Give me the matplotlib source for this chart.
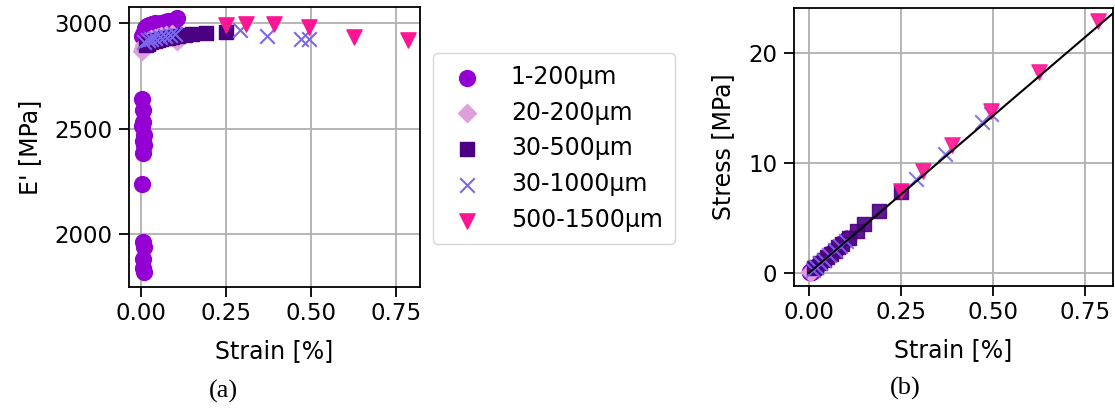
import matplotlib.pyplot as plt

# strain [%] and E' [MPa]
s1_strain = [0.003, 0.006, 0.004, 0.008, 0.005, 0.007, 0.004, 0.006, 0.009, 0.005, 0.007, 0.008, 0.006, 0.010,
             0.004, 0.008, 0.012, 0.018, 0.025, 0.032, 0.040, 0.050, 0.060, 0.070, 0.080, 0.090, 0.100, 0.105]
s1_E = [2640, 2590, 2510, 2470, 2440, 2385, 2236, 1960, 1940, 1880, 1840, 1820, 2530, 2420,
        2940, 2960, 2975, 2985, 2990, 2995, 3000, 2995, 3000, 3005, 3010, 3010, 3015, 3025]
s1_stress = [0.08, 0.16, 0.10, 0.20, 0.12, 0.17, 0.09, 0.12, 0.17, 0.09, 0.13, 0.15, 0.15, 0.24,
             0.12, 0.24, 0.36, 0.54, 0.75, 0.96, 1.20, 1.50, 1.80, 2.10, 2.41, 2.71, 3.02, 3.18]

s2_strain = [0.002, 0.005, 0.010, 0.015, 0.020, 0.030, 0.040, 0.050, 0.060, 0.075, 0.090, 0.105]
s2_E = [2870, 2880, 2895, 2905, 2915, 2925, 2930, 2935, 2940, 2945, 2950, 2915]
s2_stress = [0.06, 0.14, 0.29, 0.44, 0.58, 0.88, 1.17, 1.47, 1.76, 2.21, 2.66, 3.06]

s3_strain = [0.015, 0.020, 0.030, 0.040, 0.050, 0.060, 0.070, 0.080, 0.090, 0.110, 0.130, 0.150, 0.190, 0.250]
s3_E = [2895, 2900, 2910, 2915, 2920, 2925, 2930, 2930, 2935, 2940, 2945, 2950, 2955, 2960]
s3_stress = [0.43, 0.58, 0.87, 1.17, 1.46, 1.76, 2.05, 2.34, 2.64, 3.23, 3.83, 4.43, 5.61, 7.40]

s4_strain = [0.010, 0.020, 0.030, 0.040, 0.055, 0.070, 0.085, 0.100, 0.290, 0.370, 0.470, 0.495]
s4_E = [2910, 2920, 2925, 2930, 2935, 2940, 2945, 2950, 2967, 2938, 2924, 2924]
s4_stress = [0.29, 0.58, 0.88, 1.17, 1.61, 2.06, 2.50, 2.95, 8.60, 10.87, 13.74, 14.47]

s5_strain = [0.250, 0.310, 0.390, 0.494, 0.625, 0.785]
s5_E = [2990, 2995, 2995, 2980, 2933, 2920]
s5_stress = [7.48, 9.28, 11.68, 14.72, 18.33, 22.92]

fit_strain = [0.0, 0.85]
fit_stress = [0.0, 24.3]

labels = ['1-200μm', '20-200μm', '30-500μm', '30-1000μm', '500-1500μm']
colors = ['darkviolet', 'plum', 'indigo', 'mediumslateblue', 'deeppink']
markers = ['o', 'D', 's', 'x', 'v']

plt.rcParams['font.size'] = 16.5
plt.rcParams['axes.labelsize'] = 17
plt.rcParams['axes.linewidth'] = 1.3
plt.rcParams['xtick.major.width'] = 1.3
plt.rcParams['ytick.major.width'] = 1.3
plt.rcParams['xtick.major.size'] = 7
plt.rcParams['ytick.major.size'] = 7
plt.rcParams['xtick.major.pad'] = 4
plt.rcParams['ytick.major.pad'] = 5

fig = plt.figure(figsize=(11.15, 4.08), dpi=100)
ax1 = fig.add_axes([0.1157, 0.2966, 0.261, 0.686])
ax2 = fig.add_axes([0.712, 0.299, 0.286, 0.681])

strains = [s1_strain, s2_strain, s3_strain, s4_strain, s5_strain]
Es = [s1_E, s2_E, s3_E, s4_E, s5_E]
stresses = [s1_stress, s2_stress, s3_stress, s4_stress, s5_stress]
sizes = [130, 85, 95, 110, 120]

for i in range(5):
    ax1.scatter(strains[i], Es[i], c=colors[i], marker=markers[i], s=sizes[i],
                alpha=0.9, label=labels[i], zorder=3)
    ax2.scatter(strains[i], stresses[i], c=colors[i], marker=markers[i], s=sizes[i],
                alpha=0.9, zorder=3)
ax2.plot(fit_strain, fit_stress, color='black', lw=1.5, zorder=4)

ax1.set_xlim(-0.035, 0.82)
ax1.set_ylim(1749, 3076)
ax1.set_xticks([0, 0.25, 0.5, 0.75])
ax1.set_yticks([2000, 2500, 3000])
ax1.set_xlabel('Strain [%]', labelpad=10)
ax1.set_ylabel("E' [MPa]", labelpad=9)
ax1.grid(True, lw=1.3, zorder=0)

ax2.set_xlim(-0.041, 0.826)
ax2.set_ylim(-1.18, 24.1)
ax2.set_xticks([0, 0.25, 0.5, 0.75])
ax2.set_yticks([0, 10, 20])
ax2.set_xlabel('Strain [%]', labelpad=10)
ax2.set_ylabel('Stress [MPa]', labelpad=9)
ax2.grid(True, lw=1.3, zorder=0)

h, l = ax1.get_legend_handles_labels()
for hh in h:
    hh.set_alpha(1)
fig.legend(h, l, loc='upper left', bbox_to_anchor=(0.3883, 0.870), fontsize=17,
           borderaxespad=0, labelspacing=0.5, handletextpad=0.9, borderpad=0.5,
           handlelength=1.9)

fig.text(0.2, 0.025, '(a)', family='Liberation Serif', fontsize=19, ha='center')
fig.text(0.812, 0.032, '(b)', family='Liberation Serif', fontsize=19, ha='center')

fig.savefig('out.png', dpi=100)
